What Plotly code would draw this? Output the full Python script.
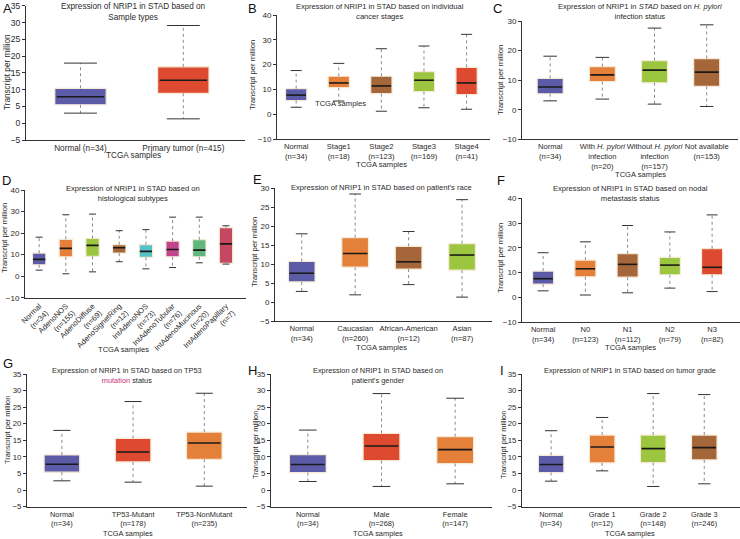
import plotly.graph_objects as go

W, H = 740, 539
FONT = "Liberation Sans, Arial, Helvetica, sans-serif"
TXT = "#2a2a2a"

BLUE = "#5b5ba8"
ORANGE = "#e5803a"
BROWN = "#a5663a"
GREEN = "#9dc640"
RED = "#de4a30"
TEAL = "#55c2c6"
MAGENTA = "#c2438e"
MGREEN = "#5fb87d"
ROSE = "#c4485f"

# ---------------- data ----------------
A_cats = ["Normal (n=34)", "Primary tumor (n=415)"]
A_lo = [3.0, 1.3]
A_q1 = [5.5, 8.9]
A_med = [7.9, 12.8]
A_q3 = [10.4, 16.8]
A_hi = [17.9, 29.1]
A_col = [BLUE, RED]

B_cats = ["Normal<br>(n=34)", "Stage1<br>(n=18)", "Stage2<br>(n=123)", "Stage3<br>(n=169)", "Stage4<br>(n=41)"]
B_lo = [2.8, 5.3, 1.2, 2.6, 2.0]
B_q1 = [5.5, 10.7, 8.3, 9.1, 7.9]
B_med = [7.7, 12.6, 11.4, 13.7, 12.6]
B_q3 = [10.3, 15.3, 15.3, 17.2, 18.9]
B_hi = [17.6, 20.5, 26.4, 27.5, 32.2]
B_col = [BLUE, ORANGE, BROWN, GREEN, RED]

C_cats = ["Normal<br>(n=34)", "With <i>H. pylori</i><br>infection<br>(n=20)",
          "Without <i>H. pylori</i><br>infection<br>(n=157)", "Not available<br>(n=153)"]
C_lo = [3.0, 3.6, 1.9, 1.1]
C_q1 = [5.4, 9.5, 9.1, 7.9]
C_med = [7.7, 11.8, 13.4, 12.7]
C_q3 = [10.6, 14.6, 16.6, 17.3]
C_hi = [18.1, 17.7, 27.6, 28.7]
C_col = [BLUE, ORANGE, GREEN, BROWN]

D_cats = ["Normal<br>(n=34)", "AdenoNOS<br>(n=155)", "AdenoDiffuse<br>(n=69)", "AdenoSignetRing<br>(n=12)",
          "IntAdenoNOS<br>(n=73)", "IntAdenoTubular<br>(n=76)", "IntAdenoMucinous<br>(n=20)",
          "IntAdenoPapillary<br>(n=7)"]
D_lo = [2.8, 1.1, 2.0, 6.7, 3.4, 4.0, 6.2, 5.6]
D_q1 = [5.3, 9.0, 9.2, 10.7, 8.7, 9.0, 9.0, 5.9]
D_med = [7.8, 12.9, 14.3, 13.2, 11.5, 12.4, 12.1, 15.0]
D_q3 = [10.7, 17.1, 17.5, 14.6, 14.6, 16.3, 16.9, 22.5]
D_hi = [18.1, 28.5, 28.8, 21.1, 21.6, 27.4, 27.4, 23.4]
D_col = [BLUE, ORANGE, GREEN, BROWN, TEAL, MAGENTA, MGREEN, ROSE]

E_cats = ["Normal<br>(n=34)", "Caucasian<br>(n=260)", "African-American<br>(n=12)", "Asian<br>(n=87)"]
E_lo = [2.8, 1.9, 4.6, 1.3]
E_q1 = [5.3, 9.2, 8.7, 8.4]
E_med = [7.6, 12.8, 10.6, 12.4]
E_q3 = [10.7, 17.0, 14.7, 15.4]
E_hi = [18.0, 28.5, 18.6, 27.0]
E_col = [BLUE, ORANGE, BROWN, GREEN]

F_cats = ["Normal<br>(n=34)", "N0<br>(n=123)", "N1<br>(n=112)", "N2<br>(n=79)", "N3<br>(n=82)"]
F_lo = [2.6, 0.9, 1.8, 3.7, 2.3]
F_q1 = [5.3, 8.3, 8.1, 9.1, 9.1]
F_med = [7.5, 11.5, 13.3, 13.0, 12.1]
F_q3 = [10.6, 15.0, 17.6, 16.1, 19.6]
F_hi = [18.0, 22.4, 29.0, 26.4, 33.3]
F_col = [BLUE, ORANGE, BROWN, GREEN, RED]

G_cats = ["Normal<br>(n=34)", "TP53-Mutant<br>(n=178)", "TP53-NonMutant<br>(n=235)"]
G_lo = [2.8, 2.4, 1.2]
G_q1 = [5.4, 8.5, 9.3]
G_med = [7.8, 11.5, 14.2]
G_q3 = [10.6, 15.6, 17.5]
G_hi = [18.0, 26.7, 29.2]
G_col = [BLUE, RED, ORANGE]

H_cats = ["Normal<br>(n=34)", "Male<br>(n=268)", "Female<br>(n=147)"]
H_lo = [2.6, 1.1, 1.9]
H_q1 = [5.3, 8.9, 8.0]
H_med = [7.7, 13.3, 12.2]
H_q3 = [10.7, 17.1, 16.1]
H_hi = [18.1, 29.1, 27.7]
H_col = [BLUE, RED, ORANGE]

I_cats = ["Normal<br>(n=34)", "Grade 1<br>(n=12)", "Grade 2<br>(n=148)", "Grade 3<br>(n=246)"]
I_lo = [2.7, 5.8, 1.1, 1.9]
I_q1 = [5.3, 8.2, 8.3, 9.1]
I_med = [7.7, 13.0, 12.5, 12.8]
I_q3 = [10.5, 16.6, 16.6, 16.6]
I_hi = [17.9, 21.9, 29.1, 28.8]
I_col = [BLUE, ORANGE, GREEN, BROWN]

TITLES = [
    "Expression of NRIP1 in STAD based on<br>Sample types",
    "Expression of NRIP1 in STAD based on individual<br>cancer stages",
    "Expression of NRIP1 in <i>STAD</i> based on <i>H. pylori</i><br>infection status",
    "Expression of NRIP1 in STAD based on<br>histological subtypes",
    "Expression of NRIP1 in STAD based on patient's race",
    "Expression of NRIP1 in STAD based on nodal<br>metastasis status",
    "Expression of NRIP1 in STAD based on TP53<br><span style='color:#c8307a'>mutation</span> status",
    "Expression of NRIP1 in STAD based on<br>patient's gender",
    "Expression of NRIP1 in STAD based on tumor grade",
]
LETTERS = ["A", "B", "C", "D", "E", "F", "G", "H", "I"]
XTITLE = "TCGA samples"
YTITLE = "Transcript per million"

# ---------------- layout geometry (pixels) ----------------
# x0, x1, ytop, ybot, xrange, yrange, dtick, capw, tickangle, font size
SPECS = [
    (26, 245, 5.7, 140, [-0.53, 1.6], [-5, 35], 5, 0.16, 0, 8.2),
    (277, 490, 15, 139, [-0.45, 4.55], [-10, 40], 10, 0.13, 0, 7.6),
    (522, 738, 21, 139.3, [-0.54, 3.6], [-10, 30], 10, 0.13, 0, 7.6),
    (25, 246, 190, 297.7, [-0.53, 7.75], [-10, 40], 10, 0.13, -45, 7.6),
    (275, 492, 188.3, 321, [-0.5, 3.56], [-5, 30], 5, 0.11, 0, 7.6),
    (522, 740, 198.3, 322, [-0.5, 4.66], [-10, 40], 10, 0.13, 0, 7.6),
    (27, 247, 374, 506.7, [-0.49, 2.6], [-5, 35], 5, 0.12, 0, 7.4),
    (271, 492, 374, 506.7, [-0.5, 2.5], [-5, 35], 5, 0.12, 0, 7.4),
    (522, 740, 374, 506.7, [-0.57, 3.7], [-5, 35], 5, 0.12, 0, 7.4),
]
# title centre (x, y), x-title (x, y), y-title (x, y), letter (x, y)
TITLE_POS = [(133, 12), (380, 12), (640, 12), (133, 193), (382, 188), (630, 193), (127, 375), (378, 375), (630, 370)]
XT_POS = [(133, 156), (382, 164), (640, 174), (123, 349), (382, 347), (630, 347), (128, 533), (378, 533), (630, 533)]
YT_POS = [(7, 72), (253, 75), (500, 80), (5, 238), (255, 252), (500, 258), (7, 430), (255, 445), (503, 445)]
LT_POS = [(7, 8), (252, 8), (497, 9), (6, 181), (257, 179), (501, 181), (8, 363), (252, 370), (502, 370)]

PANELS = [
    (A_cats, A_lo, A_q1, A_med, A_q3, A_hi, A_col),
    (B_cats, B_lo, B_q1, B_med, B_q3, B_hi, B_col),
    (C_cats, C_lo, C_q1, C_med, C_q3, C_hi, C_col),
    (D_cats, D_lo, D_q1, D_med, D_q3, D_hi, D_col),
    (E_cats, E_lo, E_q1, E_med, E_q3, E_hi, E_col),
    (F_cats, F_lo, F_q1, F_med, F_q3, F_hi, F_col),
    (G_cats, G_lo, G_q1, G_med, G_q3, G_hi, G_col),
    (H_cats, H_lo, H_q1, H_med, H_q3, H_hi, H_col),
    (I_cats, I_lo, I_q1, I_med, I_q3, I_hi, I_col),
]

BOXW = 0.5
CREAM = "#f6ead6"

fig = go.Figure()
layout = dict(width=W, height=H, margin=dict(l=0, r=0, t=0, b=0),
              paper_bgcolor="white", plot_bgcolor="white", showlegend=False,
              font=dict(family=FONT, size=7, color=TXT), barmode="overlay")
annotations = []


def px(x):
    return x / W


def py(y):
    return 1 - y / H


for k, (cats, lo, q1, med, q3, hi, cols) in enumerate(PANELS):
    sfx = "" if k == 0 else str(k + 1)
    xa, ya = "x" + sfx, "y" + sfx
    x0, x1, yt, yb, xr, yr, dt, capw, tang, fs = SPECS[k]
    n = len(cats)
    pos = list(range(n))

    fig.add_trace(go.Bar(x=pos, y=[b - a for a, b in zip(q1, q3)], base=q1, width=BOXW,
                         marker=dict(color=cols, line=dict(color=CREAM, width=1.2)),
                         xaxis=xa, yaxis=ya, hoverinfo="skip"))
    wx, wy, cx, cy, mx, my = [], [], [], [], [], []
    for i in pos:
        wx += [i, i, None, i, i, None]
        wy += [q3[i], hi[i], None, q1[i], lo[i], None]
        cx += [i - capw, i + capw, None, i - capw, i + capw, None]
        cy += [hi[i], hi[i], None, lo[i], lo[i], None]
        mx += [i - BOXW / 2 + 0.02, i + BOXW / 2 - 0.02, None]
        my += [med[i], med[i], None]
    fig.add_trace(go.Scatter(x=wx, y=wy, mode="lines", line=dict(color="#8a8a8a", width=1, dash="dot"),
                             xaxis=xa, yaxis=ya, hoverinfo="skip"))
    fig.add_trace(go.Scatter(x=cx, y=cy, mode="lines", line=dict(color="#333", width=1),
                             xaxis=xa, yaxis=ya, hoverinfo="skip"))
    fig.add_trace(go.Scatter(x=mx, y=my, mode="lines", line=dict(color="#1a1a1a", width=1.6),
                             xaxis=xa, yaxis=ya, hoverinfo="skip"))

    layout["xaxis" + sfx] = dict(domain=[px(x0), px(x1)], anchor=ya, range=xr,
                                 tickmode="array", tickvals=pos, ticktext=cats, tickangle=tang,
                                 showline=True, linecolor="#333", linewidth=1, ticks="",
                                 showgrid=False, zeroline=False, automargin=False,
                                 tickfont=dict(size=fs, family=FONT, color=TXT), fixedrange=True)
    layout["yaxis" + sfx] = dict(domain=[py(yb), py(yt)], anchor=xa, range=yr,
                                 tickmode="linear", tick0=yr[0], dtick=dt,
                                 showline=True, linecolor="#333", linewidth=1, ticks="outside",
                                 ticklen=3, tickcolor="#333", showgrid=False, zeroline=False,
                                 automargin=False, tickfont=dict(size=fs + 0.4, family=FONT, color=TXT),
                                 fixedrange=True)

    tx, ty = TITLE_POS[k]
    annotations.append(dict(text=TITLES[k], x=px(tx), y=py(ty), xref="paper", yref="paper",
                            xanchor="center", yanchor="middle", showarrow=False,
                            font=dict(size=fs, family=FONT, color=TXT)))
    tx, ty = XT_POS[k]
    annotations.append(dict(text=XTITLE, x=px(tx), y=py(ty), xref="paper", yref="paper",
                            xanchor="center", yanchor="middle", showarrow=False,
                            font=dict(size=fs, family=FONT, color=TXT)))
    tx, ty = YT_POS[k]
    annotations.append(dict(text=YTITLE, x=px(tx), y=py(ty), xref="paper", yref="paper",
                            xanchor="center", yanchor="middle", showarrow=False, textangle=-90,
                            font=dict(size=fs, family=FONT, color=TXT)))
    tx, ty = LT_POS[k]
    annotations.append(dict(text=LETTERS[k], x=px(tx), y=py(ty), xref="paper", yref="paper",
                            xanchor="center", yanchor="middle", showarrow=False,
                            font=dict(size=13, family=FONT, color="#111")))

# stray overlaid label present in panel B of the original
annotations.append(dict(text=XTITLE, x=px(340), y=py(103), xref="paper", yref="paper",
                        xanchor="center", yanchor="middle", showarrow=False,
                        font=dict(size=7.6, family=FONT, color=TXT)))

layout["annotations"] = annotations
fig.update_layout(**layout)
fig.write_html("out.html", config={"displayModeBar": False, "staticPlot": True},
               post_script="document.body.style.margin='0';document.body.style.overflow='hidden';")
